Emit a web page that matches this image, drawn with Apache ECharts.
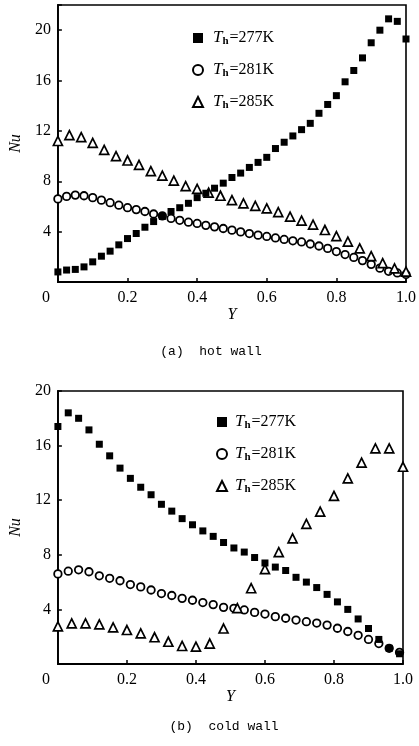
<!DOCTYPE html>
<html>
<head>
<meta charset="utf-8">
<script src="https://cdn.jsdelivr.net/npm/echarts@6/dist/echarts.min.js"></script>
<style>
html,body{margin:0;padding:0;background:#fff;}
#chart{width:419px;height:746px;}
</style>
</head>
<body>
<div id="chart"></div>
<script>
// ---- data ----
const seriesNames = ['277K', '281K', '285K'];
const xTicks = [0, 0.2, 0.4, 0.6, 0.8, 1.0];
const yTicksHot = [4, 8, 12, 16, 20];
const yTicksCold = [4, 8, 12, 16, 20];

// (a) hot wall
const hotPosA = [0,0.025,0.05,0.075,0.1,0.125,0.15,0.175,0.2,0.225,0.25,0.275,0.3,0.325,0.35,0.375,0.4,0.425,0.45,0.475,0.5,0.525,0.55,0.575,0.6,0.625,0.65,0.675,0.7,0.725,0.75,0.775,0.8,0.825,0.85,0.875,0.9,0.925,0.95,0.975,1.0];
const hot277 = [0.8,0.95,1.0,1.2,1.6,2.05,2.45,2.95,3.45,3.85,4.35,4.8,5.2,5.6,5.9,6.25,6.7,7.05,7.45,7.85,8.3,8.65,9.1,9.5,9.9,10.6,11.1,11.6,12.1,12.6,13.4,14.1,14.8,15.9,16.8,17.8,19.0,20.0,20.9,20.7,19.3];
const hot281 = [6.6,6.8,6.9,6.85,6.7,6.5,6.3,6.1,5.9,5.75,5.6,5.4,5.25,5.05,4.9,4.75,4.65,4.5,4.38,4.25,4.12,3.98,3.85,3.72,3.62,3.5,3.38,3.27,3.18,3.02,2.86,2.67,2.42,2.18,1.95,1.7,1.4,1.1,0.85,0.72,0.6];
const hotPosB = [0,0.033,0.067,0.1,0.133,0.167,0.2,0.233,0.267,0.3,0.333,0.367,0.4,0.433,0.467,0.5,0.533,0.567,0.6,0.633,0.667,0.7,0.733,0.767,0.8,0.833,0.867,0.9,0.933,0.967,1.0];
const hot285 = [11.2,11.67,11.5,11.05,10.5,10.0,9.65,9.3,8.8,8.45,8.05,7.62,7.4,7.1,6.85,6.5,6.25,6.05,5.85,5.55,5.2,4.87,4.55,4.13,3.65,3.2,2.67,2.05,1.5,1.08,0.82];

// (b) cold wall
const coldPosA = [0,0.03,0.06,0.09,0.12,0.15,0.18,0.21,0.24,0.27,0.3,0.33,0.36,0.39,0.42,0.45,0.48,0.51,0.54,0.57,0.6,0.63,0.66,0.69,0.72,0.75,0.78,0.81,0.84,0.87,0.9,0.93,0.96,0.99];
const cold277 = [17.4,18.4,18.0,17.15,16.1,15.25,14.35,13.6,12.95,12.4,11.7,11.2,10.65,10.2,9.75,9.35,8.9,8.5,8.2,7.8,7.4,7.1,6.85,6.35,6.0,5.6,5.1,4.55,4.0,3.3,2.6,1.8,1.15,0.75];
const cold281 = [6.6,6.8,6.9,6.76,6.46,6.28,6.1,5.82,5.65,5.42,5.16,5.02,4.81,4.67,4.5,4.35,4.15,4.08,3.96,3.78,3.66,3.47,3.35,3.22,3.1,3.0,2.85,2.62,2.38,2.1,1.8,1.5,1.15,0.85];
const coldPosB = [0,0.04,0.08,0.12,0.16,0.2,0.24,0.28,0.32,0.36,0.4,0.44,0.48,0.52,0.56,0.6,0.64,0.68,0.72,0.76,0.8,0.84,0.88,0.92,0.96,1.0];
const cold285 = [2.75,2.98,2.98,2.9,2.69,2.49,2.25,1.96,1.63,1.32,1.27,1.5,2.6,4.1,5.55,6.95,8.2,9.2,10.26,11.16,12.31,13.6,14.75,15.8,15.8,14.45];

const captions = ['(a)  hot wall', '(b)  cold wall'];

// ---- chart ----
const SERIF = 'Liberation Serif';
const pair = (xs, ys) => xs.map((x, i) => [x, ys[i]]);

function xAxisCfg(gridIndex, nameGap) {
  return {
    type: 'value', gridIndex, min: 0, max: 1, interval: 0.2,
    axisLine: { lineStyle: { color: '#000', width: 1.8 } },
    axisTick: { inside: true, length: 4, lineStyle: { color: '#000', width: 1.5 } },
    splitLine: { show: false },
    axisLabel: {
      color: '#000', fontFamily: SERIF, fontSize: 16, margin: 8,
      formatter: v => {
        if (!xTicks.some(t => Math.abs(t - v) < 1e-6)) return '';
        if (v === 0) return '{z|0}';
        return v.toFixed(1);
      },
      rich: { z: { fontFamily: SERIF, fontSize: 16, color: '#000', padding: [0, 24, 0, 0] } }
    },
    name: 'Y', nameLocation: 'middle', nameGap,
    nameTextStyle: { fontFamily: SERIF, fontStyle: 'italic', fontSize: 16, color: '#000' }
  };
}
function yAxisCfg(gridIndex, max, ticks) {
  return {
    type: 'value', gridIndex, min: 0, max, interval: 4,
    axisLine: { lineStyle: { color: '#000', width: 1.8 } },
    axisTick: { inside: true, length: 4, lineStyle: { color: '#000', width: 1.5 } },
    splitLine: { show: false },
    axisLabel: {
      color: '#000', fontFamily: SERIF, fontSize: 16, margin: 7,
      formatter: v => ticks.indexOf(v) >= 0 ? String(v) : ''
    },
    name: 'Nu', nameLocation: 'middle', nameRotate: 90, nameGap: 30,
    nameTextStyle: { fontFamily: SERIF, fontStyle: 'italic', fontSize: 16, color: '#000' }
  };
}
function legendCfg(left, top, pad) {
  return {
    left, top, orient: 'vertical', itemWidth: 10, itemHeight: 10, itemGap: 14,
    data: seriesNames, selectedMode: false,
    formatter: name => '{t|T}{s|h}{n|=' + name + '}',
    textStyle: {
      color: '#000',
      rich: {
        t: { fontFamily: SERIF, fontStyle: 'italic', fontSize: 17, color: '#000', padding: [0, 0, 0, pad], lineHeight: 20 },
        s: { fontFamily: SERIF, fontWeight: 'bold', fontSize: 11, color: '#000', padding: [7, 1, 0, 0], lineHeight: 20 },
        n: { fontFamily: SERIF, fontSize: 16, color: '#000', lineHeight: 20 }
      }
    }
  };
}
const styles = [
  { symbol: 'rect', symbolSize: 7, itemStyle: { color: '#000', opacity: 1 } },
  { symbol: 'circle', symbolSize: 7.5, itemStyle: { color: '#fff', borderColor: '#000', borderWidth: 1.8, opacity: 1 } },
  { symbol: 'triangle', symbolSize: 9, itemStyle: { color: '#fff', borderColor: '#000', borderWidth: 1.7, opacity: 1 } }
];
function sc(i, gi, data, z) {
  return Object.assign({ type: 'scatter', name: seriesNames[i], xAxisIndex: gi, yAxisIndex: gi, data, z, clip: true,
    emphasis: { disabled: true } }, styles[i]);
}

const option = {
  animation: false,
  backgroundColor: '#fff',
  grid: [
    { left: 55, top: 5, width: 352, height: 277, show: true, borderColor: '#000', borderWidth: 1.6 },
    { left: 56, top: 391, width: 347, height: 273, show: true, borderColor: '#000', borderWidth: 1.6 }
  ],
  xAxis: [xAxisCfg(0, 22), xAxisCfg(1, 21)],
  yAxis: [yAxisCfg(0, 22, yTicksHot), yAxisCfg(1, 20, yTicksCold)],
  legend: [legendCfg(187, 24, 5), legendCfg(211, 408, 3)],
  series: [
    sc(1, 0, pair(hotPosA, hot281), 2),
    sc(2, 0, pair(hotPosB, hot285), 3),
    sc(0, 0, pair(hotPosA, hot277), 4),
    sc(1, 1, pair(coldPosA, cold281), 2),
    sc(2, 1, pair(coldPosB, cold285), 3),
    sc(0, 1, pair(coldPosA, cold277), 4)
  ],
  graphic: [
    { type: 'text', x: 211, y: 352, style: { text: captions[0], font: '13px "Liberation Mono"', fill: '#000', align: 'center', verticalAlign: 'middle' } },
    { type: 'text', x: 224, y: 727, style: { text: captions[1], font: '13px "Liberation Mono"', fill: '#000', align: 'center', verticalAlign: 'middle' } }
  ]
};
const chart = echarts.init(document.getElementById('chart'), null, { renderer: 'canvas' });
chart.setOption(option);
</script>
</body>
</html>
